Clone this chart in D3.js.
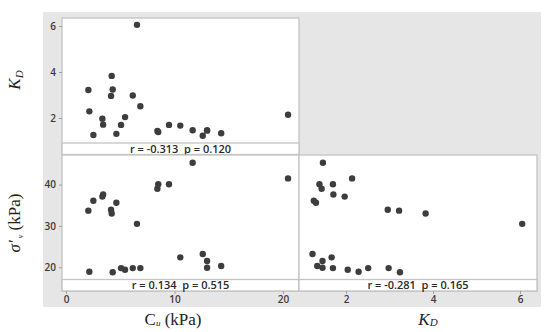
<!doctype html>
<html lang="en">
  <head>
    <meta charset="UTF-8" />
    <title>Matrix plot: Cu, KD, sigma'v</title>
    <style>
      body { margin: 0; background: #fff; }
      .tick text { font-family: "Open Sans", sans-serif; font-size: 10px; font-weight: 600; fill: #3a3a3a; }
      .tick line { stroke: #a0a0a0; }
      .domain { display: none; }
      .frame { fill: #fff; stroke: #c4c4c4; stroke-width: 1.3px; }
      .strip { fill: #fff; stroke: #c4c4c4; stroke-width: 1.3px; }
      .stat { font-family: "Open Sans", sans-serif; font-size: 11px; font-weight: 600; fill: #2a2a2a; white-space: pre; }
      .title { font-family: "Liberation Serif", serif; font-size: 17px; fill: #222; }
    </style>
  </head>
  <body>
    <div id="chart"></div>
    <script src="https://d3js.org/d3.v7.min.js"></script>
    <script>
      // values, one entry per sample
      const cu = [2.06, 2.52, 3.35, 3.42, 4.15, 4.21, 4.64, 6.54, 8.42, 8.5, 9.49, 11.67, 20.46,
                  2.15, 4.3, 5.07, 5.44, 6.15, 6.85, 10.53, 12.6, 13.0, 13.0, 14.3];
      const kd = [3.22, 1.26, 1.97, 1.71, 2.96, 3.83, 1.31, 6.05, 1.44, 1.39, 1.7, 1.47, 2.14,
                  2.29, 3.24, 1.7, 2.04, 2.98, 2.51, 1.67, 1.23, 1.46, 1.46, 1.34];
      const sv = [33.7, 36.1, 37.1, 37.6, 33.9, 33.0, 35.6, 30.5, 39.0, 40.1, 40.1, 45.3, 41.5,
                  18.9, 18.8, 19.8, 19.4, 19.8, 19.8, 22.4, 23.2, 21.5, 19.9, 20.3];

      const cuTicks = [0, 10, 20];
      const kdTicks = [2, 4, 6];
      const svTicks = [20, 30, 40];
      const stats = ['r = -0.313  p = 0.120', 'r = 0.134  p = 0.515', 'r = -0.281  p = 0.165'];

      const width = 550, height = 332;
      const svg = d3.select('#chart').append('svg').attr('width', width).attr('height', height);

      // grey matrix background
      svg.append('rect').attr('x', 43).attr('y', 12).attr('width', 498).attr('height', 295).attr('fill', '#e6e6e6');

      const colL = [62, 299], colR = [299, 537];
      const rowT = [18, 154.5], rowB = [155, 291];
      const stripH = 11.5;
      const fmt = d3.format('d');

      const xCu = d3.scaleLinear().domain([-0.37, 21.47]).range(colL);
      const xKd = d3.scaleLinear().domain([0.92, 6.39]).range(colR);
      const yKd = d3.scaleLinear().domain([0.913, 6.348]).range([rowT[1] - stripH, rowT[0]]);
      const ySv = d3.scaleLinear().domain([17.04, 47.16]).range([rowB[1] - stripH, rowB[0]]);

      function panel(xr, yr, xs, ys, xv, yv, stat) {
        const g = svg.append('g');
        g.append('rect').attr('class', 'frame')
          .attr('x', xr[0]).attr('y', yr[0]).attr('width', xr[1] - xr[0]).attr('height', yr[1] - yr[0]);
        g.append('rect').attr('class', 'strip')
          .attr('x', xr[0]).attr('y', yr[1] - stripH).attr('width', xr[1] - xr[0]).attr('height', stripH);
        g.append('text').attr('class', 'stat')
          .attr('x', (xr[0] + xr[1]) / 2).attr('y', yr[1] - 1.8).attr('text-anchor', 'middle')
          .text(stat);
        g.selectAll('circle').data(xv).enter().append('circle')
          .attr('cx', (d) => xs(d)).attr('cy', (d, i) => ys(yv[i])).attr('r', 3.2)
          .attr('fill', '#3d3d3d');
      }

      panel(colL, rowT, xCu, yKd, cu, kd, stats[0]);
      panel(colL, rowB, xCu, ySv, cu, sv, stats[1]);
      panel(colR, rowB, xKd, ySv, kd, sv, stats[2]);

      // axes
      svg.append('g').attr('transform', `translate(${colL[0]},0)`)
        .call(d3.axisLeft(yKd).tickValues(kdTicks).tickFormat(fmt).tickSize(3).tickPadding(3));
      svg.append('g').attr('transform', `translate(${colL[0]},0)`)
        .call(d3.axisLeft(ySv).tickValues(svTicks).tickFormat(fmt).tickSize(3).tickPadding(3));
      svg.append('g').attr('transform', `translate(0,${rowB[1]})`)
        .call(d3.axisBottom(xCu).tickValues(cuTicks).tickFormat(fmt).tickSize(3).tickPadding(2));
      svg.append('g').attr('transform', `translate(0,${rowB[1]})`)
        .call(d3.axisBottom(xKd).tickValues(kdTicks).tickFormat(fmt).tickSize(3).tickPadding(2));

      // axis titles
      const t1 = svg.append('text').attr('class', 'title')
        .attr('transform', 'translate(20,80) rotate(-90)').attr('text-anchor', 'middle');
      t1.append('tspan').attr('font-style', 'italic').text('K');
      t1.append('tspan').attr('font-style', 'italic').attr('font-size', 11).attr('dy', 3).text('D');

      const t2 = svg.append('text').attr('class', 'title')
        .attr('transform', 'translate(20,223) rotate(-90)').attr('text-anchor', 'middle');
      t2.append('tspan').attr('font-style', 'italic').text('σ′');
      t2.append('tspan').attr('font-size', 8).attr('font-style', 'italic').attr('dy', 3).text(' v');
      t2.append('tspan').attr('dy', -3).text(' (kPa)');

      const t3 = svg.append('text').attr('class', 'title')
        .attr('x', 173).attr('y', 325).attr('text-anchor', 'middle');
      t3.append('tspan').text('C');
      t3.append('tspan').attr('font-size', 9).attr('font-style', 'italic').attr('dy', 1).text('u');
      t3.append('tspan').attr('dy', -1).text(' (kPa)');

      const t4 = svg.append('text').attr('class', 'title')
        .attr('x', 428).attr('y', 325).attr('text-anchor', 'middle');
      t4.append('tspan').attr('font-style', 'italic').text('K');
      t4.append('tspan').attr('font-style', 'italic').attr('font-size', 11).attr('dy', 1).text('D');
    </script>
  </body>
</html>
